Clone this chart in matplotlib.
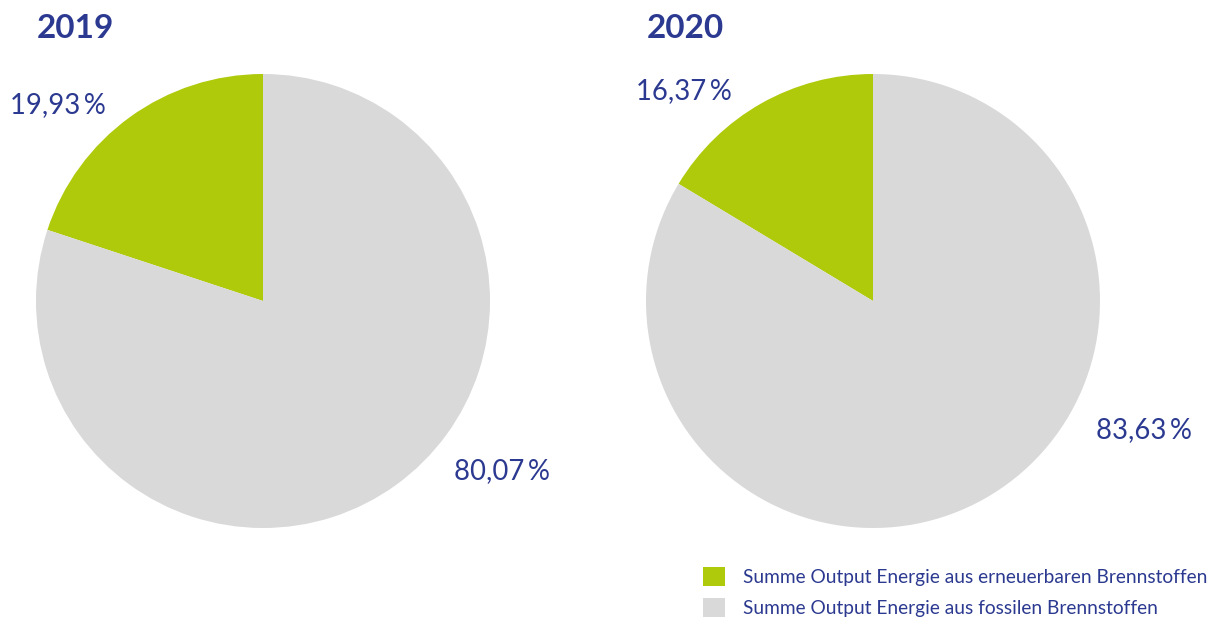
import matplotlib.pyplot as plt

years = ["2019", "2020"]
renewable = [19.93, 16.37]
fossil = [80.07, 83.63]
legend_labels = ["Summe Output Energie aus erneuerbaren Brennstoffen",
                 "Summe Output Energie aus fossilen Brennstoffen"]

green = "#afca0b"
grey = "#d9d9d9"
blue = "#2b3990"
plt.rcParams['font.family'] = ['Lato', 'DejaVu Sans']

W, H = 1224, 619
fig = plt.figure(figsize=(W / 100, H / 100), dpi=100)
ax = fig.add_axes([0, 0, 1, 1])

def fmt(v):
    return f"{v:.2f}".replace(".", ",") + "\u2009%"

centers = [(263, H - 301), (873, H - 301)]
title_x = [37, 647]
# label anchors (pixel positions)
small_pos = [(10, 105, 'left'), (636, 91, 'left')]
big_pos = [(550, 471, 'right'), (1192, 430, 'right')]

wedges = None
for i, year in enumerate(years):
    w, _ = ax.pie([renewable[i], fossil[i]], colors=[green, grey],
                  startangle=90, counterclock=True,
                  center=centers[i], radius=227, frame=True)
    wedges = w if wedges is None else wedges
    ax.text(title_x[i], H - 28, year, fontsize=24, fontweight='bold',
            color=blue, ha='left', va='center')
    x, y, ha = small_pos[i]
    ax.text(x, H - y, fmt(renewable[i]), fontsize=19.8, color=blue,
            ha=ha, va='center')
    x, y, ha = big_pos[i]
    ax.text(x, H - y, fmt(fossil[i]), fontsize=19.8, color=blue,
            ha=ha, va='center')

ax.set_xlim(0, W)
ax.set_ylim(0, H)
ax.set_aspect('equal')
ax.axis('off')

leg = ax.legend(wedges, legend_labels, loc='upper left',
                bbox_to_anchor=(690 / W, 1 - 554 / H), bbox_transform=fig.transFigure,
                frameon=False, fontsize=13.8, handlelength=1.15, handleheight=1.15,
                handletextpad=0.94, labelspacing=0.6, borderpad=0.2)
for t in leg.get_texts():
    t.set_color(blue)

fig.savefig("out.png", dpi=100)
